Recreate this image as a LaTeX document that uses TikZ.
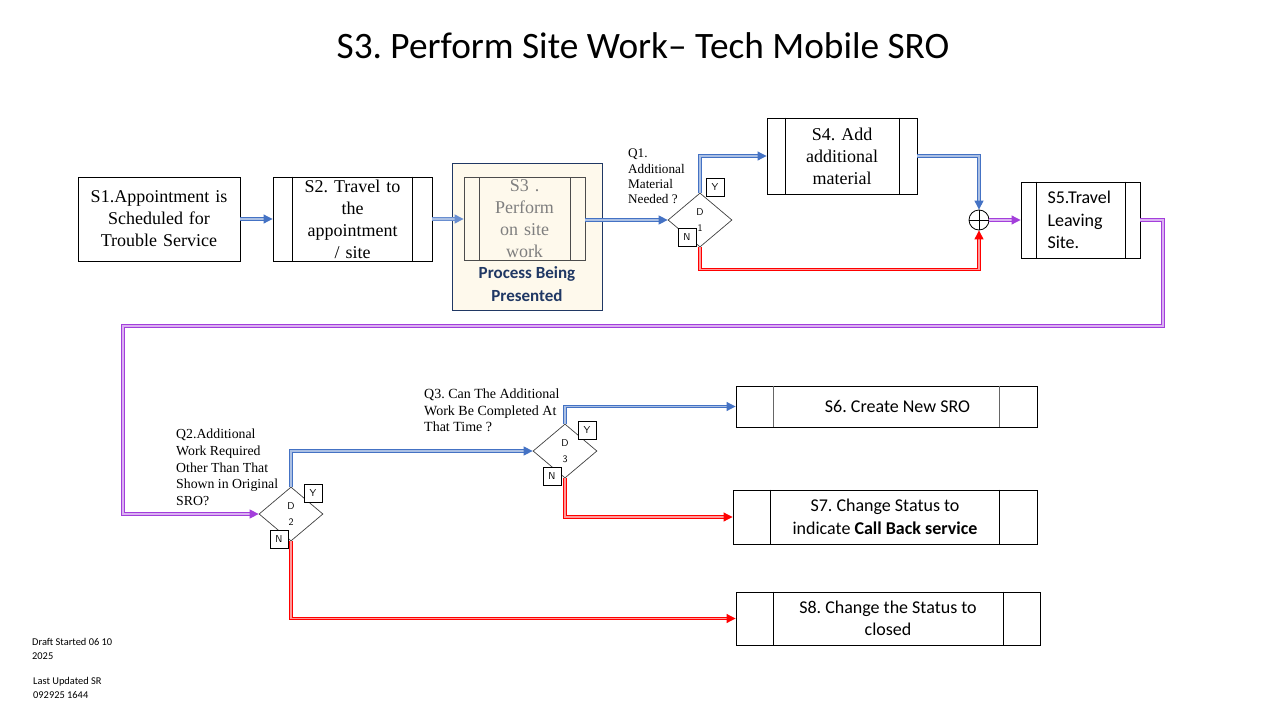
\documentclass[tikz,border=0pt]{standalone}
\usepackage{fontspec}
\setmainfont{Liberation Serif}
\newfontfamily\calfont{Carlito}
\usetikzlibrary{shapes.geometric,arrows.meta}
\definecolor{blueC}{HTML}{4472C4}
\definecolor{redC}{HTML}{FF0000}
\definecolor{purC}{HTML}{A33EDB}
\definecolor{navyC}{HTML}{203864}
\definecolor{creamC}{HTML}{FEF9EC}
\definecolor{grayT}{HTML}{7F7F7F}
\frenchspacing
\tikzset{
  box/.style={draw, rectangle, line width=0.9pt, inner sep=1pt, align=center},
  tms/.style={font=\frenchspacing\fontsize{18}{22}\selectfont},
  clb/.style={font=\frenchspacing\calfont\fontsize{18}{22.5}\selectfont},
  qlab/.style={anchor=north west, align=left, inner sep=0pt},
  dia/.style={draw=black!75, diamond, minimum width=64, minimum height=54, inner sep=0pt, line width=0.7pt},
  dtxt/.style={font=\sffamily\fontsize{10}{16}\selectfont, align=center, inner sep=0pt},
  yn/.style={draw, rectangle, line width=0.8pt, minimum width=18, minimum height=18, inner sep=0pt, font=\sffamily\fontsize{10}{12}\selectfont, fill=white},
  conn/.style={line width=1pt, double distance=1.1pt, -{Triangle[length=9pt,width=9pt]}},
  bl/.style={conn, draw=blueC, double=blueC!45},
  rl/.style={conn, draw=redC, double=redC!40},
  pl/.style={conn, draw=purC, double=purC!40},
  inl/.style={line width=0.8pt},
}
\begin{document}
\begin{tikzpicture}[x=1pt,y=-1pt]
\useasboundingbox (0,0) rectangle (1280,720);
% title
\node[font=\frenchspacing\calfont\fontsize{37.3}{40}\selectfont] (title) at (643,46) {S3. Perform Site Work– Tech Mobile SRO};
% S1
\node[box, tms, minimum width=162, minimum height=84, text width=158] (s1) at (159,219) {S1.Appointment is\\Scheduled for\\Trouble Service};
% S2
\node[box, tms, minimum width=159, minimum height=84, text width=118] (s2) at (352.5,219) {S2. Travel to\\the\\appointment\\/ site};
\draw[inl] ([xshift=20]s2.north west) -- ([xshift=20]s2.south west);
\draw[inl] ([xshift=-20]s2.north east) -- ([xshift=-20]s2.south east);
% S3
\node[draw=navyC, fill=creamC, line width=0.9pt, minimum width=150, minimum height=147, inner sep=0pt] (s3o) at (527,236.5) {};
\node[box, draw=black!70, tms, text=grayT, minimum width=121, minimum height=83, text width=90, line width=0.8pt] (s3i) at (524.5,219) {S3 .\\Perform\\on site\\work};
\draw[inl, black!70] ([xshift=16]s3i.north west) -- ([xshift=16]s3i.south west);
\draw[inl, black!70] ([xshift=-15]s3i.north east) -- ([xshift=-15]s3i.south east);
\node[font=\calfont\bfseries\fontsize{17}{23}\selectfont, text=navyC, align=center] (s3p) at (527,284) {Process Being\\Presented};
% D1
\node[dia] (d1) at (700,220) {};
\node[dtxt] (d1t) at (700,220) {D\\1};
\node[yn] (d1y) at (715,187) {Y};
\node[yn] (d1n) at (687,237) {N};
\node[qlab, font=\fontsize{13.2}{15.3}\selectfont] (q1) at (628,149) {Q1.\\Additional\\Material\\Needed ?};
% S4
\node[box, tms, minimum width=150, minimum height=76, text width=108] (s4) at (842,156) {S4. Add\\additional\\material};
\draw[inl] ([xshift=19]s4.north west) -- ([xshift=19]s4.south west);
\draw[inl] ([xshift=-18]s4.north east) -- ([xshift=-18]s4.south east);
% merge
\node[circle, draw, line width=0.8pt, minimum size=20, inner sep=0pt] (mg) at (979,220) {};
\draw[line width=0.7pt] (mg.north) -- (mg.south) (mg.west) -- (mg.east);
% S5
\node[box, clb, minimum width=119, minimum height=76, text width=66, align=left] (s5) at (1080.5,220) {S5.Travel\\Leaving\\Site.};
\draw[inl] ([xshift=16]s5.north west) -- ([xshift=16]s5.south west);
\draw[inl] ([xshift=-15]s5.north east) -- ([xshift=-15]s5.south east);
% D2
\node[dia] (d2) at (291,514) {};
\node[dtxt] (d2t) at (291,514) {D\\2};
\node[yn] (d2y) at (313,493) {Y};
\node[yn] (d2n) at (279,539) {N};
\node[qlab, font=\fontsize{13.8}{16.7}\selectfont] (q2) at (176,429) {Q2.Additional\\Work Required\\Other Than That\\Shown in Original\\SRO?};
% D3
\node[dia] (d3) at (565,451) {};
\node[dtxt] (d3t) at (565,451) {D\\3};
\node[yn] (d3y) at (587,430) {Y};
\node[yn] (d3n) at (552,476) {N};
\node[qlab, font=\fontsize{14}{16.5}\selectfont] (q3) at (424,389) {Q3. Can The Additional\\Work Be Completed At\\That Time ?};
% S6 S7 S8
\node[box, clb, minimum width=301, minimum height=41] (s6) at (886.5,406.5) {\hspace*{22pt}S6. Create New SRO};
\draw[inl, black!60] ([xshift=38]s6.north west) -- ([xshift=38]s6.south west);
\draw[inl, black!60] ([xshift=-38]s6.north east) -- ([xshift=-38]s6.south east);
\node[box, clb, minimum width=304, minimum height=54] (s7) at (885,517) {S7. Change Status to\\indicate \textbf{Call Back service}};
\draw[inl] ([xshift=38]s7.north west) -- ([xshift=38]s7.south west);
\draw[inl] ([xshift=-38]s7.north east) -- ([xshift=-38]s7.south east);
\node[box, clb, minimum width=304, minimum height=53] (s8) at (888,618.5) {S8. Change the Status to\\closed};
\draw[inl] ([xshift=38]s8.north west) -- ([xshift=38]s8.south west);
\draw[inl] ([xshift=-37]s8.north east) -- ([xshift=-37]s8.south east);
% footer
\node[qlab, font=\calfont\fontsize{10.4}{14}\selectfont] (ft1) at (32,638) {Draft Started 06 10\\2025};
\node[qlab, font=\calfont\fontsize{10.4}{14}\selectfont] (ft2) at (33,677) {Last Updated SR\\092925 1644};
% connectors
\draw[bl] (s1.east) -- (s2.west);
\draw[bl, draw=blueC!80] (s2.east) -- (s3i.west);
\draw[bl] (s3i.east |- d1.west) -- (d1.west);
\draw[bl] (d1.north) |- (s4.west);
\draw[bl] (s4.east) -| (mg.north);
\draw[rl] (d1.south) -- ++(0,22) -| (mg.south);
\draw[pl] (mg.east) -- (s5.west);
\coordinate (p1) at (1163,326);
\coordinate (p2) at (123,326);
\draw[pl] (s5.east) -| (p1) -- (p2) |- (d2.west);
\draw[bl] (d2.north) |- (d3.west);
\draw[bl] (d3.north) |- (s6.west);
\draw[rl] (d3.south) |- (s7.west);
\draw[rl] (d2.south) |- (s8.west);
\end{tikzpicture}
\end{document}
